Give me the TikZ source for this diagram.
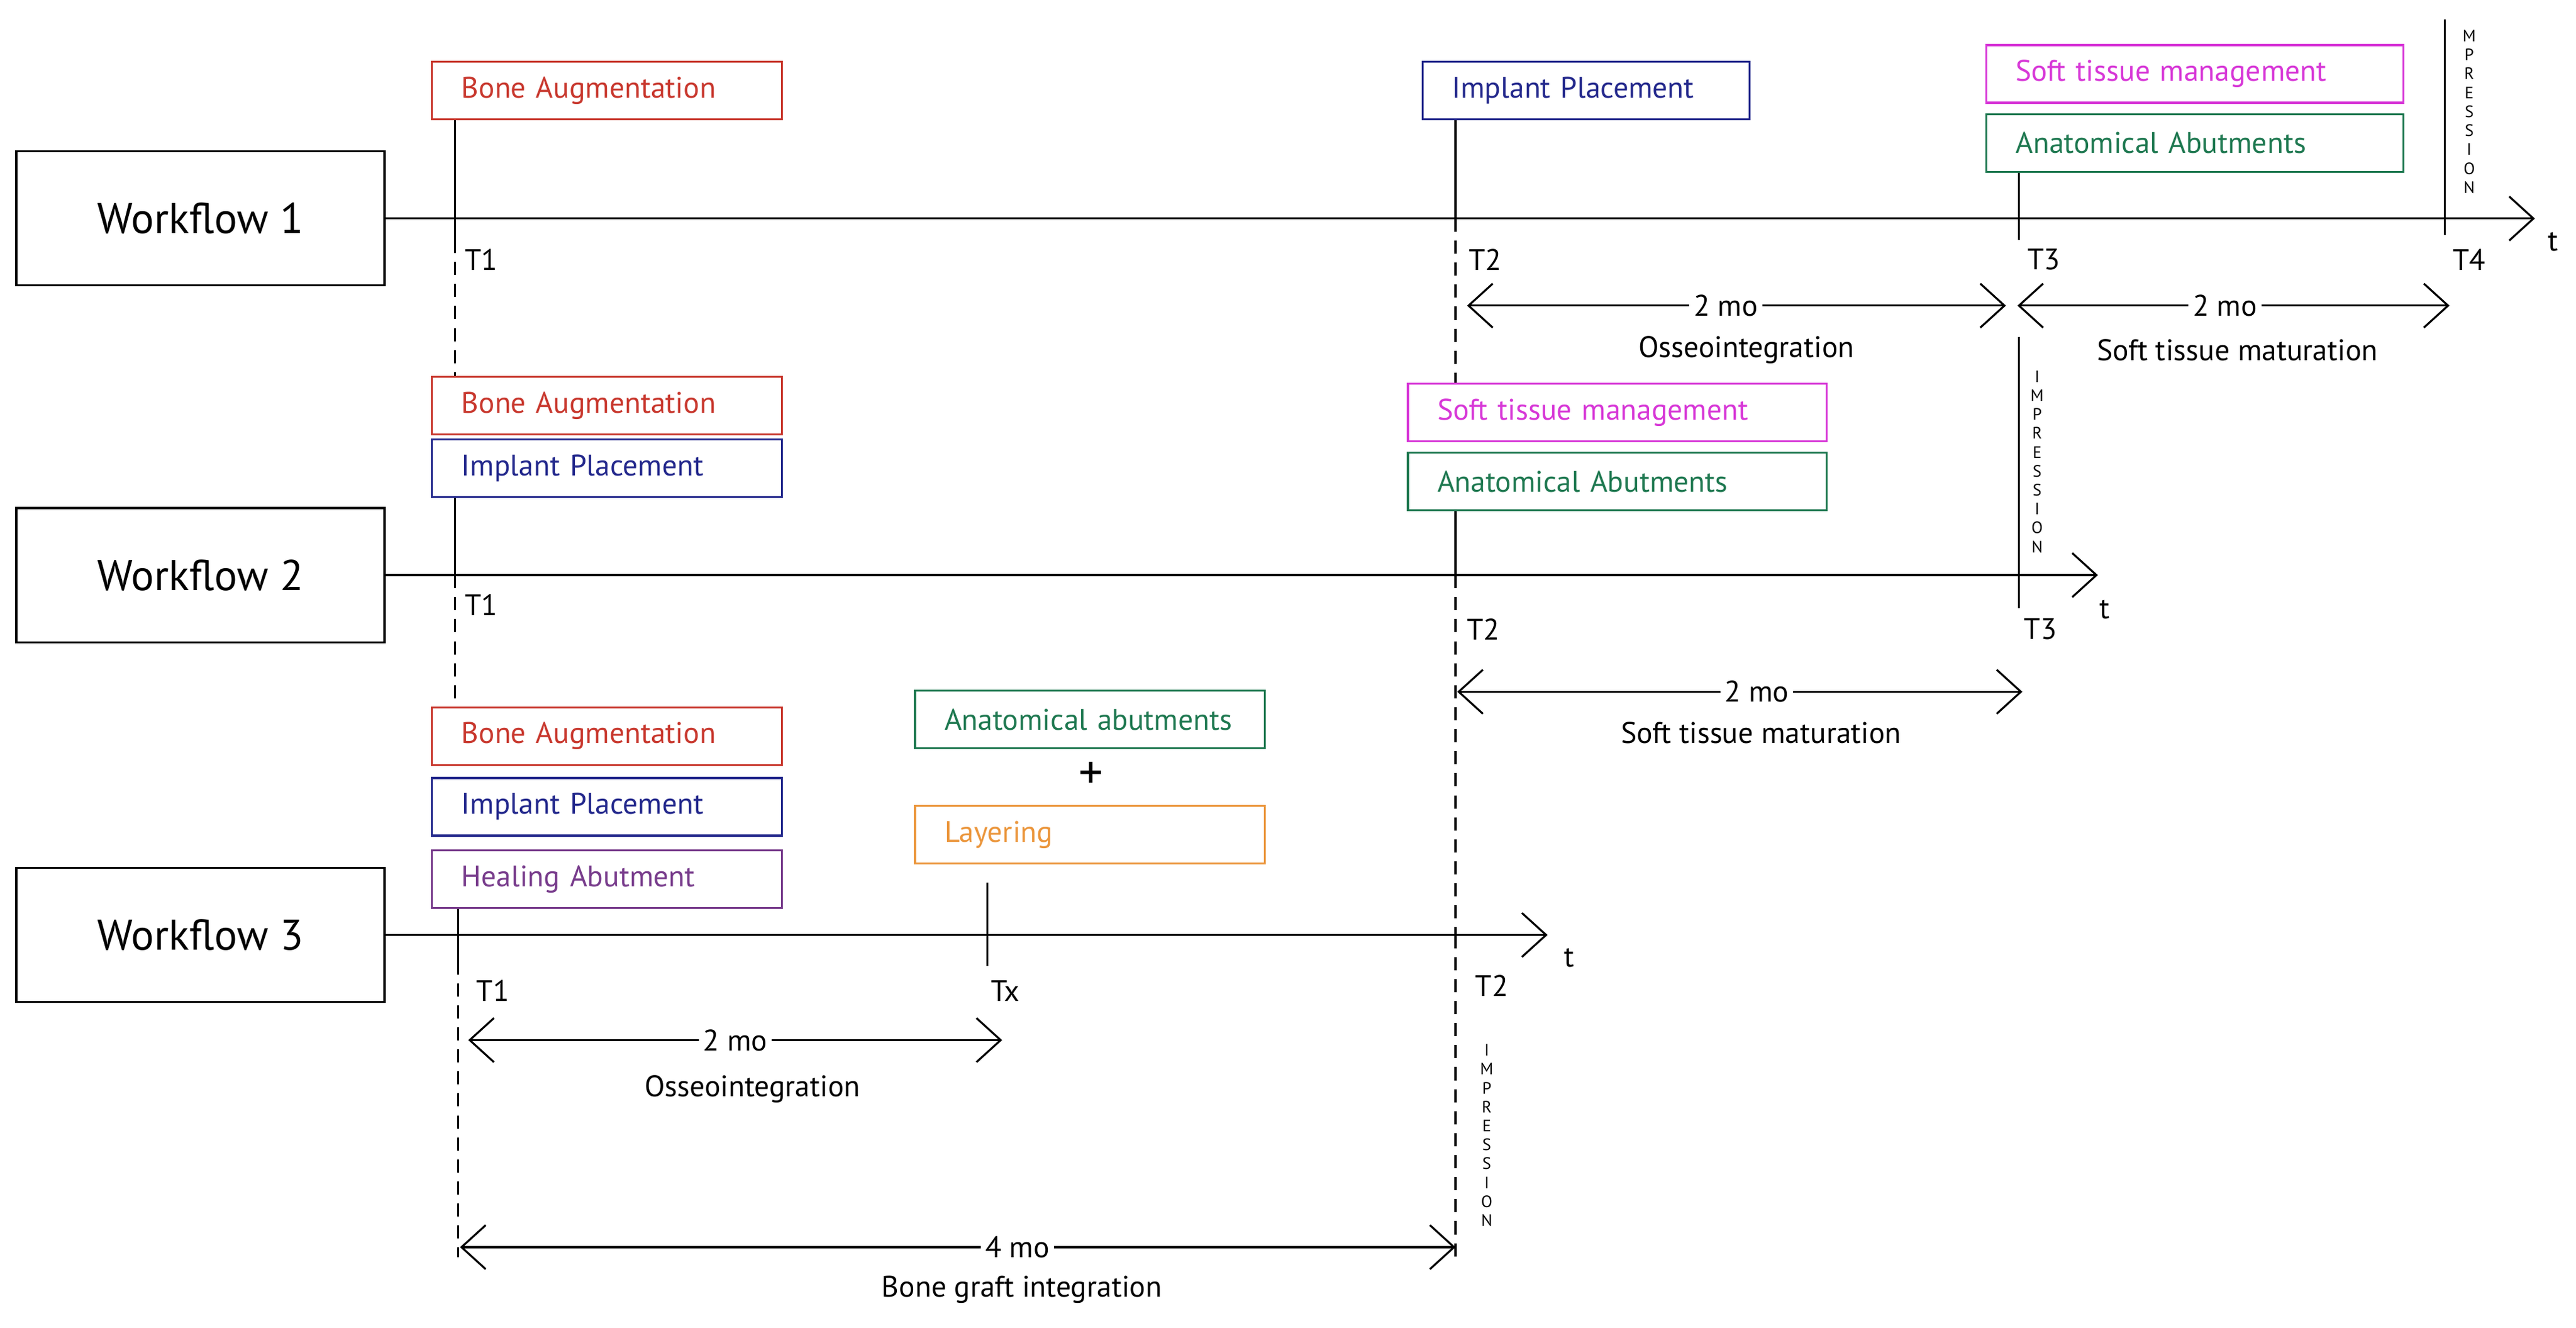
\documentclass[tikz,border=0pt]{standalone}
\usepackage{fontspec}
\setmainfont{PT Sans}
\usetikzlibrary{arrows.meta}
\definecolor{cred}{RGB}{200,55,45}
\definecolor{cblue}{RGB}{35,40,140}
\definecolor{cmag}{RGB}{215,55,215}
\definecolor{cgreen}{RGB}{30,120,80}
\definecolor{cpurp}{RGB}{120,60,140}
\definecolor{corange}{RGB}{235,150,60}
\tikzset{
 box/.style 2 args={draw=#1,text=#1,line width=0.9pt,text width=#2*0.02623cm-0.94cm,align=left,inner xsep=0.47cm,inner ysep=0pt,minimum height=0.92cm,font=\fontsize{13.5}{15}\selectfont},
 wf/.style={draw,line width=0.9pt,minimum width=5.88cm,minimum height=2.14cm,font=\fontsize{19.5}{22}\selectfont},
 ax/.style={line width=0.9pt,-{Straight Barb[length=11pt,width=20pt,line width=0.9pt]}},
 dur/.style={line width=0.9pt,{Straight Barb[length=11pt,width=20pt,line width=0.9pt]}-{Straight Barb[length=11pt,width=20pt,line width=0.9pt]}},
 tick/.style={line width=0.9pt},
 dsh/.style={line width=0.9pt,dash pattern=on 6pt off 4pt},
 lab/.style={font=\fontsize{13.5}{15}\selectfont},
 mo/.style={font=\fontsize{13.5}{15}\selectfont,fill=white,inner sep=2pt},
 imp/.style={font=\fontsize{7.5}{8.6}\selectfont,align=center,inner sep=0pt},
}
\begin{document}
\begin{tikzpicture}[x=0.02623cm,y=-0.02623cm]
\useasboundingbox[fill=white] (0,0) rectangle (1568,808);
% workflow boxes
\node[wf] (w1) at (122,133) {Workflow 1};
\node[wf] (w2) at (122,350) {Workflow 2};
\node[wf] (w3) at (122,569) {Workflow 3};
\coordinate (e1) at (1543,133);
\coordinate (e2) at (1277,350);
\coordinate (e3) at (942,569);
\draw[ax] (w1.east) -- (e1);
\draw[ax] (w2.east) -- (e2);
\draw[ax] (w3.east) -- (e3);
\node[lab] (t1) at (1554,147) {t};
\node[lab] (t2) at (1281,371) {t};
\node[lab] (t3) at (955,583) {t};
% ---- Workflow 1
\node[box={cred}{213}] (ba1) at (369.5,55) {Bone Augmentation};
\node[box={cblue}{199}] (ip1) at (965.5,55) {Implant Placement};
\node[box={cmag}{254}] (st1) at (1336,45) {Soft tissue management};
\node[box={cgreen}{254}] (aa1) at (1336,87) {Anatomical Abutments};
\coordinate (a1) at (277,133); \coordinate (a1b) at (277,146);
\coordinate (b1) at (886,133);
\coordinate (c1) at (1229,133); \coordinate (c1b) at (1229,146);
\draw[tick] (ba1.south-|a1) -- (a1b);
\draw[tick] (ip1.south-|b1) -- (b1);
\draw[tick] (aa1.south-|c1) -- (c1b);
\coordinate (imp1a) at (1488,12); \coordinate (imp1b) at (1488,143);
\draw[tick] (imp1a) -- (imp1b);
\node[imp] (imp1) at (1503,68) {M\\P\\R\\E\\S\\S\\I\\O\\N};
\node[lab] (T11) at (293,158) {T1};
\node[lab] (T12) at (904,158) {T2};
\node[lab] (T13) at (1244,158) {T3};
\node[lab] (T14) at (1503,158) {T4};
\coordinate (d1a) at (893,186); \coordinate (d1b) at (1221,186);
\draw[dur] (d1a) -- (d1b) node[mo,pos=0.48] (m1) {2 mo};
\node[lab] (o1) at (1063,213) {Osseointegration};
\coordinate (d2a) at (1228,186); \coordinate (d2b) at (1491,186);
\draw[dur] (d2a) -- (d2b) node[mo,pos=0.48] (m2) {2 mo};
\node[lab] (s1) at (1362,213) {Soft tissue maturation};
% ---- Workflow 2
\node[box={cred}{213}] (ba2) at (369.5,247) {Bone Augmentation};
\node[box={cblue}{213}] (ip2) at (369.5,285) {Implant Placement};
\node[box={cmag}{255}] (st2) at (984.5,251) {Soft tissue management};
\node[box={cgreen}{255}] (aa2) at (984.5,293) {Anatomical Abutments};
\draw[dsh] (a1b) -- (ba2.north-|a1);
\draw[dsh] (b1) -- (st2.north-|b1);
\coordinate (a2) at (277,350);
\coordinate (b2) at (886,350);
\draw[tick] (ip2.south-|a2) -- (a2);
\draw[tick] (aa2.south-|b2) -- (b2);
\coordinate (imp2a) at (1229,205); \coordinate (imp2b) at (1229,370);
\draw[tick] (imp2a) -- (imp2b);
\node[imp] (imp2) at (1240,281) {I\\M\\P\\R\\E\\S\\S\\I\\O\\N};
\node[lab] (T21) at (293,368) {T1};
\node[lab] (T22) at (903,383) {T2};
\node[lab] (T23) at (1242,383) {T3};
\coordinate (d3a) at (887,421); \coordinate (d3b) at (1231,421);
\draw[dur] (d3a) -- (d3b) node[mo,pos=0.53] (m3) {2 mo};
\node[lab] (s2) at (1072,446) {Soft tissue maturation};
% ---- Workflow 3
\node[box={cred}{213}] (ba3) at (369.5,448) {Bone Augmentation};
\node[box={cblue}{213}] (ip3) at (369.5,491) {Implant Placement};
\node[box={cpurp}{213}] (ha3) at (369.5,535) {Healing Abutment};
\draw[dsh] (a2) -- (ba3.north-|a2);
\node[box={cgreen}{213}] (aa3) at (663.5,438) {Anatomical abutments};
\node[font=\fontsize{22}{22}\selectfont\addfontfeatures{}\mdseries,inner sep=0pt] (plus) at (664,472) {+};
\node[box={corange}{213}] (la3) at (663.5,508) {Layering};
\coordinate (a3) at (279,569); \coordinate (a3b) at (279,585);
\coordinate (x3a) at (601,537); \coordinate (x3b) at (601,588);
\coordinate (b3) at (886,569);
\draw[tick] (ha3.south-|a3) -- (a3b);
\draw[tick] (x3a) -- (x3b);
\draw[dsh] (b2) -- (b3);
\coordinate (b3e) at (886,765);
\draw[dsh] (b3) -- (b3e);
\coordinate (a3e) at (279,765);
\draw[dsh] (a3b) -- (a3e);
\node[imp] (imp3) at (905,691) {I\\M\\P\\R\\E\\S\\S\\I\\O\\N};
\node[lab] (T31) at (300,603) {T1};
\node[lab] (T3x) at (612,603) {Tx};
\node[lab] (T32) at (908,600) {T2};
\coordinate (d4a) at (285,633); \coordinate (d4b) at (610,633);
\draw[dur] (d4a) -- (d4b) node[mo,pos=0.5] (m4) {2 mo};
\node[lab] (o3) at (458,663) {Osseointegration};
\coordinate (d5a) at (280,759); \coordinate (d5b) at (886,759);
\draw[dur] (d5a) -- (d5b) node[mo,pos=0.56] (m5) {4 mo};
\node[lab] (g3) at (622,785) {Bone graft integration};
\end{tikzpicture}
\end{document}
